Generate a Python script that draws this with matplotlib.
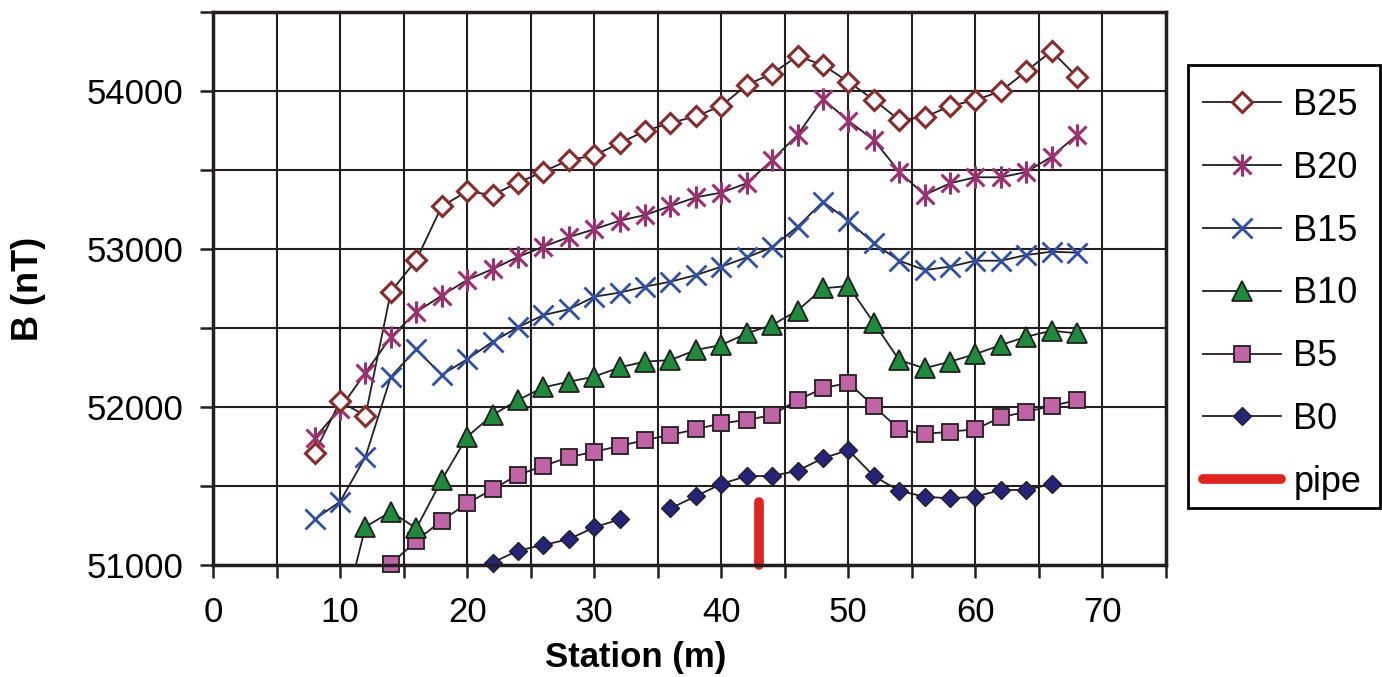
import matplotlib
matplotlib.use('Agg')
import numpy as np
import matplotlib.pyplot as plt
from matplotlib.path import Path
from matplotlib.lines import Line2D
from matplotlib.patches import Rectangle

plt.rcParams['font.family'] = ['Liberation Sans', 'DejaVu Sans']

nan = np.nan
stations = list(range(8, 70, 2))

B25 = [51710, 52035, 51945, 52730, 52930, 53270, 53365, 53342, 53420, 53490, 53563,
       53592, 53670, 53747, 53798, 53840, 53905, 54038, 54110, 54220, 54165, 54058,
       53945, 53816, 53834, 53905, 53943, 53998, 54125, 54253, 54088]
B20 = [51804, 51990, 52217, 52443, 52601, 52705, 52804, 52873, 52949, 53015, 53075,
       53125, 53179, 53215, 53272, 53327, 53357, 53416, 53563, 53722, 53949, 53812,
       53690, 53490, 53342, 53416, 53454, 53454, 53487, 53584, 53722]
B15 = [51289, 51401, 51685, 52192, 52365, 52203, 52302, 52413, 52504, 52582, 52618,
       52698, 52724, 52762, 52793, 52835, 52888, 52947, 53011, 53141, 53299, 53179,
       53036, 52926, 52867, 52888, 52926, 52926, 52962, 52983, 52977]
B10 = [nan, 50600, 51242, 51337, 51232, 51538, 51812, 51949, 52044, 52124, 52160,
       52192, 52251, 52287, 52297, 52361, 52392, 52466, 52519, 52610, 52751, 52766,
       52534, 52297, 52245, 52287, 52335, 52392, 52445, 52483, 52466]
B5 = [nan, nan, nan, 51006, 51154, 51281, 51390, 51479, 51570, 51627, 51682,
      51717, 51753, 51791, 51823, 51859, 51897, 51918, 51949, 52044, 52118, 52154,
      52006, 51859, 51829, 51844, 51859, 51935, 51970, 52006, 52044]
B0 = [nan, nan, nan, nan, nan, nan, nan, 51015, 51091, 51127, 51163,
      51238, 51289, nan, 51359, 51435, 51513, 51563, 51563, 51597, 51675, 51728,
      51563, 51470, 51432, 51422, 51432, 51475, 51475, 51513, nan]

pipe_x = [43, 43]
pipe_y = [51000, 51400]

series_names = ['B25', 'B20', 'B15', 'B10', 'B5', 'B0']
series_vals = [B25, B20, B15, B10, B5, B0]

# Excel-like asterisk: X plus vertical bar
ast = Path([(-0.5, -0.5), (0.5, 0.5), (-0.5, 0.5), (0.5, -0.5), (0, -0.62), (0, 0.62)],
           [Path.MOVETO, Path.LINETO, Path.MOVETO, Path.LINETO, Path.MOVETO, Path.LINETO])

styles = {
    'B25': dict(marker='D', ms=10.5, mfc='white', mec='#8a2a2a', mew=2.2),
    'B20': dict(marker=ast, ms=16, mfc='none', mec='#9c2f6f', mew=2.2),
    'B15': dict(marker='x', ms=14, mfc='none', mec='#3050a8', mew=2.0),
    'B10': dict(marker='^', ms=14, mfc='#1d8a3c', mec='#231f20', mew=1.3),
    'B5': dict(marker='s', ms=11, mfc='#c064a6', mec='#231f20', mew=1.3),
    'B0': dict(marker='D', ms=9.5, mfc='#26237a', mec='#231f20', mew=1.0),
}

W, H = 1382, 677
fig = plt.figure(figsize=(W / 100, H / 100), dpi=100)
ax = fig.add_axes([213 / W, 1 - 565 / H, (1166 - 213) / W, (565 - 12) / H])

ymin, ymax = 51000, 54500
ax.set_xlim(0, 75)
ax.set_ylim(ymin, ymax)

dark = '#231f20'
x = np.array(stations, dtype=float)
for name, vals in zip(series_names[::-1], series_vals[::-1]):
    v = np.array(vals, dtype=float)
    ax.plot(x, v, color=dark, lw=1.3, zorder=3)
    vm = np.where(v >= ymin, v, nan)
    ax.plot(x, vm, ls='none', zorder=4, clip_on=False, **styles[name])

ax.plot(pipe_x, pipe_y, color='#e02520', lw=7, solid_capstyle='round', zorder=5, clip_on=False)

ax.set_xticks(range(0, 80, 10))
ax.set_xticks(range(0, 80, 5), minor=True)
ax.set_yticks([51000, 52000, 53000, 54000])
ax.set_yticks(np.arange(51000, 54501, 500), minor=True)
ax.grid(True, which='both', color=dark, lw=1.5, zorder=0)
ax.set_axisbelow(True)
ax.tick_params(axis='both', which='both', direction='out', length=9.5, width=1.8, color=dark,
               labelsize=25)
ax.tick_params(axis='x', which='both', pad=13)
ax.tick_params(axis='y', which='both', pad=12)
for s in ax.spines.values():
    s.set_color(dark)
    s.set_linewidth(2.5)
    s.set_zorder(6)

ax.set_xlabel('Station (m)', fontsize=25, fontweight='bold')
ax.xaxis.set_label_coords((636 - 213) / 953, -(674 - 565) / 553)
ax.xaxis.label.set_va('bottom')
ax.set_ylabel('B (nT)', fontsize=26, fontweight='bold')
ax.yaxis.set_label_coords(-(213 - 11) / 953, 0.5)
ax.yaxis.label.set_va('top')

handles = []
for name in series_names:
    handles.append(Line2D([], [], color=dark, lw=1.3, **styles[name]))
handles.append(Line2D([], [], color='#e02520', lw=7, solid_capstyle='round'))
labels = series_names + ['pipe']
leg = fig.legend(handles, labels, loc='upper left', bbox_to_anchor=(1203 / W, 1 - 88 / H),
                 fontsize=26, frameon=False,
                 handlelength=2.17, labelspacing=0.77, borderpad=0, handletextpad=0.33,
                 borderaxespad=0)
fig.add_artist(Rectangle((1188 / W, 1 - 508 / H), (1380 - 1188) / W, (508 - 65) / H,
                         transform=fig.transFigure, fill=False, edgecolor='black', lw=2))

fig.savefig('out.png', dpi=100)
